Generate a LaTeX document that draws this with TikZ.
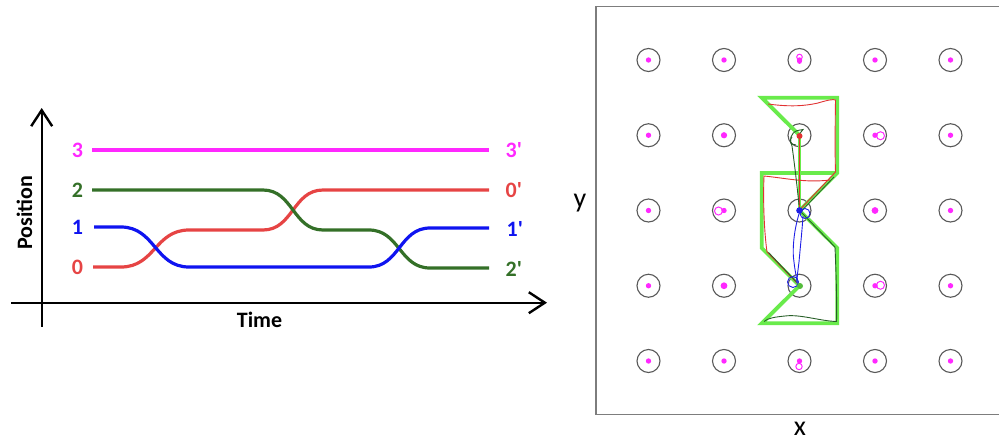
\documentclass[tikz,border=0pt]{standalone}
\usepackage{fontspec}
\setmainfont{Carlito}[Ligatures=TeXOff]
\usetikzlibrary{arrows.meta}
\definecolor{mag}{RGB}{255,40,255}
\definecolor{dgreen}{RGB}{52,112,40}
\definecolor{lred}{RGB}{230,68,68}
\definecolor{lblue}{RGB}{15,20,240}
\definecolor{lgreen}{RGB}{105,235,75}
\definecolor{tgreen}{RGB}{40,95,40}
\definecolor{tred}{RGB}{225,50,50}
\definecolor{tblue}{RGB}{30,30,230}
\definecolor{boxgray}{RGB}{125,125,125}
\begin{document}
\begin{tikzpicture}[x=1pt,y=-1pt,
  axis/.style={line width=2.4pt,-{Straight Barb[length=16pt,width=21pt]}},
  curve/.style={line width=3.2pt},
  lab/.style={font=\bfseries\fontsize{22}{22}\selectfont,inner sep=0pt},
  axlab/.style={font=\fontsize{28}{28}\selectfont,inner sep=0pt,anchor=base},
  site/.style={circle,draw=black!65,line width=1.1pt,minimum size=23pt,inner sep=0pt},
  gpath/.style={lgreen,line width=3.8pt},
  thin/.style={line width=0.9pt},
  scrib/.style={mag,line width=1pt}]
\useasboundingbox (0,0) rectangle (999,442);

% ---------------- left panel ----------------
\coordinate (yb) at (41.7,326.7);
\coordinate (yt) at (41.7,108);
\coordinate (xl) at (11,302.7);
\coordinate (xr) at (547,302.7);
\draw[axis] (yb) -- (yt);
\draw[axis] (xl) -- (xr);

\draw[curve,mag] (92,150) -- (489,150);
\draw[curve,lred] (93,267) -- (121,267) .. controls (155,267) and (155,230) .. (189,230) -- (263,230) .. controls (293,230) and (293,190) .. (323,190) -- (489,190);
\draw[curve,dgreen] (92,190) -- (263,190) .. controls (293,190) and (293,230) .. (323,230) -- (369,230) .. controls (399.5,230) and (399.5,268) .. (430,268) -- (489,268);
\draw[curve,lblue] (94,227) -- (121,227) .. controls (155,227) and (155,267) .. (189,267) -- (369,267) .. controls (399.5,267) and (399.5,228) .. (430,228) -- (489,228);

\node[lab,text=mag] (n3) at (77.5,150) {3};
\node[lab,text=dgreen] (n2) at (77.5,190) {2};
\node[lab,text=lblue] (n1) at (77.5,227) {1};
\node[lab,text=lred] (n0) at (77.5,267) {0};
\node[lab,text=mag,anchor=west] (m3) at (505.5,150) {3'};
\node[lab,text=lred,anchor=west] (m0) at (505.5,190) {0'};
\node[lab,text=lblue,anchor=west] (m1) at (506.5,229) {1'};
\node[lab,text=dgreen,anchor=west] (m2) at (505.5,269) {2'};
\node[lab,rotate=90] (pos) at (24.5,213) {Position};
\node[lab] (time) at (259.5,320) {Time};

% ---------------- right panel ----------------
\draw[boxgray,line width=1.5pt] (1000,6.5) -- (596,6.5) -- (596,414.5) -- (1000,414.5);
\node[axlab] (ylab) at (580,207.5) {y};
\node[axlab] (xlab) at (800,435) {x};

\foreach \i in {0,...,4}{
  \foreach \j in {0,...,4}{
    \node[site] (s\i\j) at ({648.5+75.5*\i},{60+75.25*\j}) {};
  }
}
% magenta dots
\foreach \n in {s00,s10,s20,s30,s40,s01,s11,s31,s41,s02,s12,s32,s42,s03,s13,s33,s43,s04,s14,s24,s34,s44}{
  \fill[mag] (\n.center) circle (2.7);
}
% magenta scribbles
\fill[mag] (s32.center) circle (3.4);
\fill[mag] (s13.center) circle (3.4);
\fill[mag] (s11.center) circle (3.1);
\draw[scrib] (s20.center) ++(0,-3) circle (2.8);
\fill[mag] (s20.center) ++(0,1.5) circle (2.4);
\draw[scrib] (s31.center) ++(5.5,0.5) circle (4);
\draw[scrib] (s12.center) ++(-5.5,0.5) circle (4);
\draw[scrib] (s33.center) ++(5.5,-0.5) circle (4);
\draw[scrib] (s24.center) ++(-0.5,5.5) circle (3.2);

% green planned paths
\coordinate (gA) at (761.75,97.7);
\coordinate (gB) at (837.25,97.7);
\coordinate (gC) at (837.25,173);
\coordinate (gD) at (761.75,173);
\coordinate (gE) at (761.75,248);
\coordinate (gF) at (837.25,248);
\coordinate (gG) at (837.25,323.3);
\coordinate (gH) at (761.75,323.3);
\draw[gpath] (s21.center) -- (gA) -- (gB) -- (gC) -- (s22.center);
\draw[gpath] (gC) -- (gD) -- (gE) -- (s23.center);
\draw[gpath] (s21.center) -- (s22.center);
\draw[gpath] (s22.center) -- (gF) -- (gG) -- (gH) -- (s23.center);

% red trace
\draw[thin,tred] (768,104) .. controls (790,107) and (805,106) .. (818,103) .. controls (828,100) and (833,99) .. (835.5,100) .. controls (835,130) and (835,160) .. (835.5,172) -- (801,208.5);
\draw[thin,tred] (797,283) -- (767,252) .. controls (764,230) and (763,200) .. (764,176) .. controls (785,178) and (805,183) .. (830,180);
\draw[tgreen,line width=0.8pt] (834,177) -- (802,210.5);
\draw[tred,line width=1.6pt] (s22.center) -- (s21.center);
\draw[thin,tgreen] (768.5,252.5) -- (796,281.5);

% dark green trace
\draw[thin,tgreen] (799.5,134) -- (803,129.5) -- (797.5,130.5) .. controls (790,133) and (789,141) .. (792,146) .. controls (794,160) and (797,185) .. (799,205);
\draw[thin,tgreen] (792,137) .. controls (789,140) and (790,145) .. (796,145);
\draw[thin,tgreen] (801,212) -- (835,247) .. controls (836,270) and (837,300) .. (836.5,321.5) .. controls (820,321) and (800,314) .. (785,316) .. controls (775,317) and (768,318) .. (764,321.5);

% blue trace
\draw[thin,tblue] (805,213.5) circle (5);
\draw[thin,tblue] (799,214) .. controls (794,230) and (792,250) .. (794,262) .. controls (795,272) and (797,278) .. (797,283);
\draw[thin,tblue] (803,216) .. controls (802,232) and (800,250) .. (799,262) .. controls (798,270) and (797,276) .. (797,283);
\draw[thin,tblue] (793,282) circle (5.5);

% robot dots
\fill[tred] (799.5,136) circle (3);
\fill[tblue] (s22.center) circle (3.3);
\fill[lgreen!80!black] (800,286) circle (3);
\end{tikzpicture}
\end{document}
